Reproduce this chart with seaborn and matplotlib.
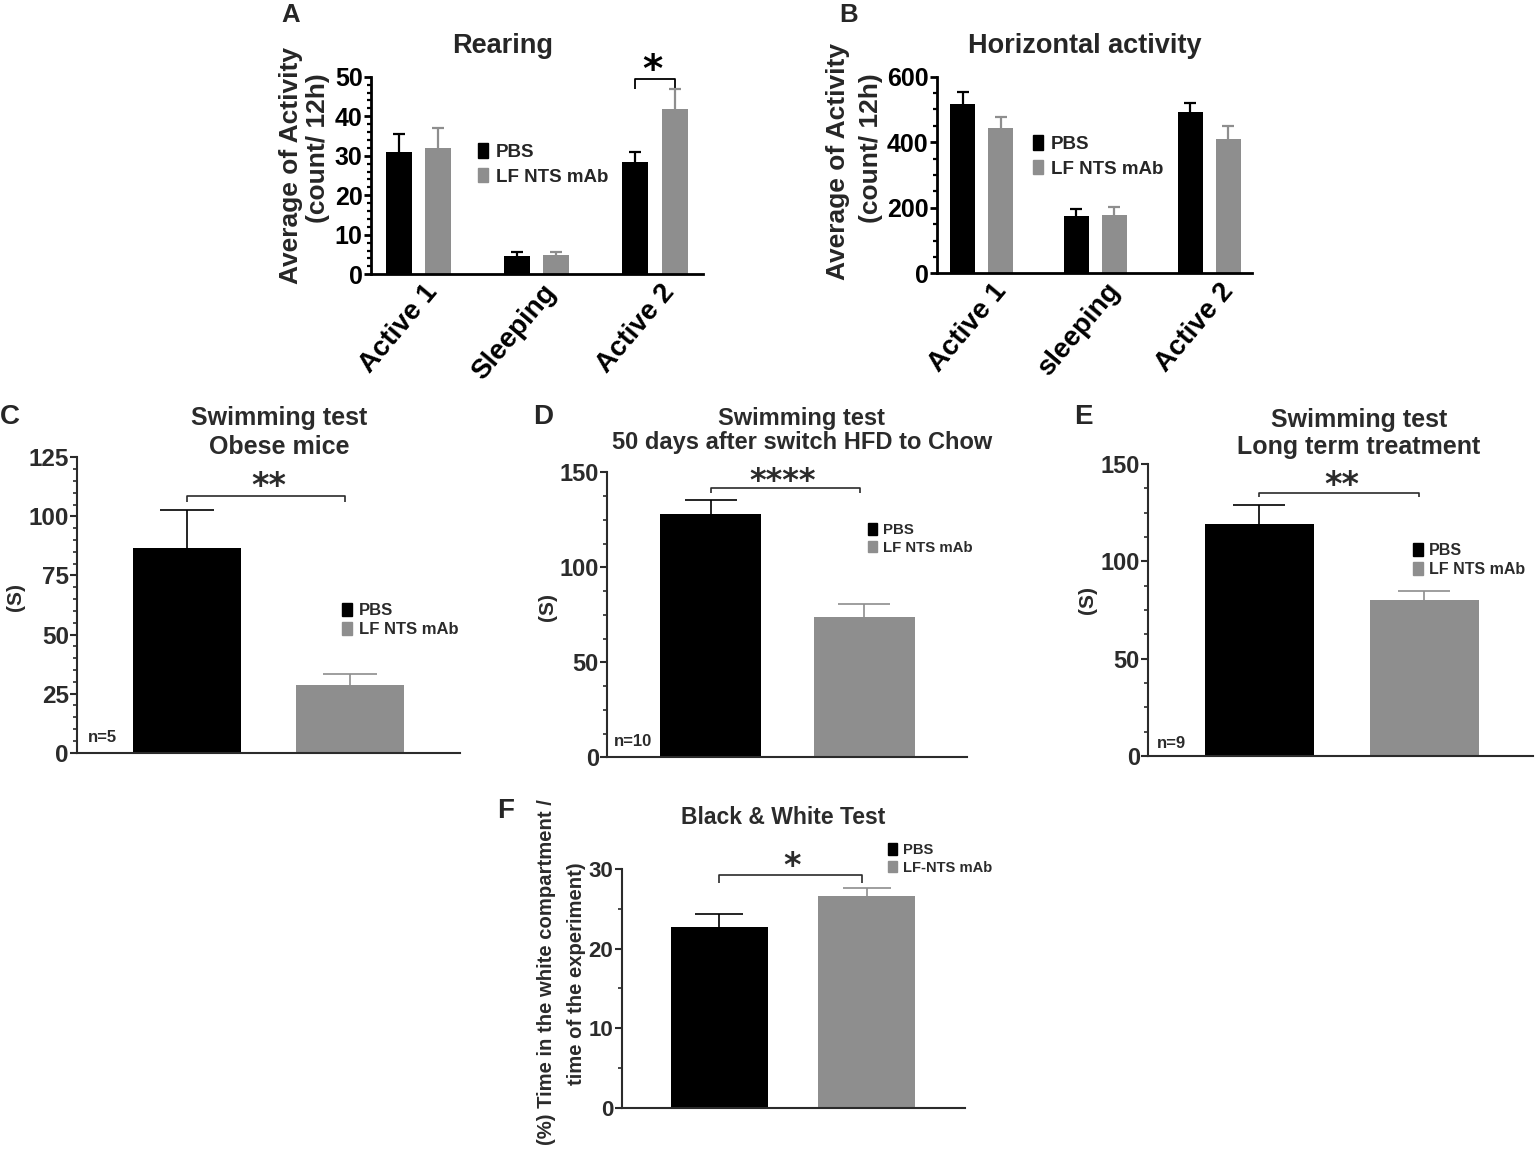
import matplotlib
matplotlib.use("Agg")
import matplotlib.pyplot as plt
import matplotlib.transforms as mtrans
from matplotlib.patches import Patch
from matplotlib.container import BarContainer
from matplotlib.ticker import MultipleLocator
import seaborn as sns
import pandas as pd

# ---------------- data ----------------
groups = ["PBS", "LF NTS mAb"]

A_categories = ["Active 1", "Sleeping", "Active 2"]
A_pbs = [31.0, 4.6, 28.3]
A_pbs_sem = [4.5, 1.0, 2.7]
A_lf = [31.9, 4.8, 41.9]
A_lf_sem = [5.1, 0.8, 5.0]

B_categories = ["Active 1", "sleeping", "Active 2"]
B_pbs = [518, 176, 491]
B_pbs_sem = [34, 20, 28]
B_lf = [444, 179, 411]
B_lf_sem = [32, 24, 39]

C_values = [86.8, 28.6]
C_sem = [15.9, 4.8]
D_values = [128.1, 73.7]
D_sem = [7.5, 7.0]
E_values = [119.2, 80.1]
E_sem = [9.9, 4.8]
F_groups = ["PBS", "LF-NTS mAb"]
F_values = [22.75, 26.6]
F_sem = [1.55, 1.05]

# significance bracket heights (data units): (top, tip)
A_bracket = (49.3, 46.8)
C_bracket = (108.8, 106.2)
D_bracket = (141.7, 138.9)
E_bracket = (135.2, 132.9)
F_bracket = (29.3, 28.3)

BLACK = "#000000"
GREY = "#8e8e8e"
DARK = "#2b2b2b"

sns.set_style("ticks")
plt.rcParams["font.family"] = ["Liberation Sans", "DejaVu Sans"]
plt.rcParams["font.weight"] = "bold"

W, H = 1536, 1155
fig = plt.figure(figsize=(W / 100, H / 100), dpi=100)


def rect(l, r, b, t):
    return [l / W, 1 - b / H, (r - l) / W, (b - t) / H]


def ftext(x, y, s, **kw):
    kw.setdefault("ha", "center")
    kw.setdefault("va", "center")
    kw.setdefault("fontweight", "bold")
    return fig.text(x / W, 1 - y / H, s, **kw)


def stars(x, yc, s, size, color):
    em = size * 100 / 72
    fig.text(x / W, 1 - (yc + 0.48 * em) / H, s, ha="center", va="baseline",
             fontsize=size, fontweight="bold", family="DejaVu Sans", color=color)


def bar_containers(ax):
    return [c for c in ax.containers if isinstance(c, BarContainer)]


def style_axis(ax, color, lw, major, minor, ymax, labsize):
    sns.despine(ax=ax)
    for sp in ("left", "bottom"):
        ax.spines[sp].set_linewidth(lw)
        ax.spines[sp].set_color(color)
    ax.set_ylim(0, ymax)
    ax.yaxis.set_major_locator(MultipleLocator(major))
    ax.yaxis.set_minor_locator(MultipleLocator(minor))
    ax.tick_params(axis="y", which="major", length=5, width=lw, color=color,
                   labelsize=labsize, labelcolor=color, pad=1)
    ax.tick_params(axis="y", which="minor", length=3, width=lw * 0.8, color=color)
    ax.tick_params(axis="x", length=0)
    for lab in ax.get_yticklabels():
        lab.set_fontweight("bold")
    ax.set_xlabel("")
    ax.set_ylabel("")


def add_errors(ax, means_list, sems_list, colors, capsize, lw):
    conts = bar_containers(ax)
    for cont, means, sems, col in zip(conts, means_list, sems_list, colors):
        for bar, m, e in zip(cont, means, sems):
            xc = bar.get_x() + bar.get_width() / 2
            eb = ax.errorbar(xc, m, yerr=[[0], [e]], fmt="none", ecolor=col,
                             elinewidth=lw, capsize=capsize, capthick=lw, zorder=3)
            # only the upper cap is drawn (one-sided SEM)
            eb[1][0].set_visible(False)


def bracket(ax, x1, x2, top, tip, color, lw):
    ax.plot([x1, x1, x2, x2], [tip, top, top, tip], color=color, lw=lw,
            clip_on=False, solid_capstyle="butt")


def bar_centers(ax):
    return [b.get_x() + b.get_width() / 2 for c in bar_containers(ax) for b in c]


palette = {"PBS": BLACK, "LF NTS mAb": GREY, "LF-NTS mAb": GREY}

# ---------------- Panel A / B ----------------
def grouped(rectpx, cats, pbs, pbs_sem, lf, lf_sem, ymax, major, minor, xlim, dx_px):
    ax = fig.add_axes(rect(*rectpx))
    df = pd.DataFrame({
        "cat": cats * 2,
        "grp": [groups[0]] * len(cats) + [groups[1]] * len(cats),
        "val": list(pbs) + list(lf),
    })
    sns.barplot(data=df, x="cat", y="val", hue="grp", hue_order=groups,
                palette=palette, width=0.667, gap=0.34, errorbar=None,
                linewidth=0, legend=False, ax=ax)
    ax.set_xlim(*xlim)
    style_axis(ax, BLACK, 2.0, major, minor, ymax, 18)
    add_errors(ax, [pbs, lf], [pbs_sem, lf_sem], [BLACK, GREY], 4.6, 1.6)
    # rotated category labels, anchored at their upper-right corner
    ticks = ax.get_xticks()
    ax.set_xticklabels([])
    base = mtrans.blended_transform_factory(ax.transData, ax.transAxes)
    off = mtrans.ScaledTranslation(dx_px / 100, -5 / 100, fig.dpi_scale_trans)
    for xt, name in zip(ticks, cats):
        ax.text(xt, 0, name, transform=base + off, rotation=50,
                rotation_mode="anchor", ha="right", va="top",
                fontsize=20, fontweight="bold", color=BLACK)
    return ax


axA = grouped((371, 703, 274.3, 76.7), A_categories, A_pbs, A_pbs_sem,
              A_lf, A_lf_sem, 50, 10, 2, (-0.40, 2.405), 5)
axB = grouped((937, 1252, 273.3, 76.7), B_categories, B_pbs, B_pbs_sem,
              B_lf, B_lf_sem, 600, 200, 50, (-0.393, 2.377), 10)

# A bracket between Active 2 bars
bcA = bar_containers(axA)
pbs_bars = list(bcA[0])
lf_bars = list(bcA[1])
xa1 = pbs_bars[2].get_x() + pbs_bars[2].get_width() / 2
xa2 = lf_bars[2].get_x() + lf_bars[2].get_width() / 2
bracket(axA, xa1, xa2, A_bracket[0], A_bracket[1], BLACK, 1.3)
stars(652, 63, "*", 28, BLACK)

# legends A/B
for ax, (lx, ly) in ((axA, (478, 143)), (axB, (1033, 135))):
    handles = [Patch(color=BLACK), Patch(color=GREY)]
    leg = ax.legend(handles, groups, loc="upper left",
                    bbox_to_anchor=(lx / W, 1 - ly / H),
                    bbox_transform=fig.transFigure, frameon=False,
                    handlelength=0.55, handleheight=0.85, handletextpad=0.4,
                    labelspacing=0.35, borderpad=0, borderaxespad=0,
                    prop={"weight": "bold", "size": 13.5})

# titles/labels A, B
ftext(503, 46, "Rearing", fontsize=19.5)
ftext(1085, 46, "Horizontal activity", fontsize=19.5)
ftext(291, 166, "Average of Activity", fontsize=19, rotation=90)
ftext(318, 148, "(count/ 12h)", fontsize=19, rotation=90)
ftext(838, 162, "Average of Activity", fontsize=19, rotation=90)
ftext(871, 148, "(count/ 12h)", fontsize=19, rotation=90)
ftext(291, 15, "A", fontsize=18.5)
ftext(849, 15, "B", fontsize=18.5)


# ---------------- Panels C-F ----------------
def single(rectpx, grp, vals, sems, ymax, major, minor, xlim, labsize, cap):
    ax = fig.add_axes(rect(*rectpx))
    df = pd.DataFrame({"grp": grp, "val": vals})
    sns.barplot(data=df, x="grp", y="val", hue="grp", hue_order=grp,
                palette=palette, width=0.66, errorbar=None, linewidth=0,
                legend=False, dodge=False, ax=ax)
    ax.set_xlim(*xlim)
    style_axis(ax, DARK, 1.5, major, minor, ymax, labsize)
    ax.set_xticklabels([])
    add_errors(ax, [[v] for v in vals], [[s] for s in sems], [BLACK, GREY], cap, 1.2)
    return ax


axC = single((77.3, 460, 752.7, 457.3), groups, C_values, C_sem, 125, 25, 5,
             (-0.669, 1.672), 17.5, 19.4)
axD = single((607.3, 966.7, 757.3, 472.3), groups, D_values, D_sem, 150, 50, 12.5,
             (-0.673, 1.665), 17, 18.4)
axE = single((1148.3, 1533, 756, 464), groups, E_values, E_sem, 150, 50, 12.5,
             (-0.671, 1.66), 17, 18.4)
axF = single((621.7, 965, 1107.7, 869), F_groups, F_values, F_sem, 30, 10, 5,
             (-0.664, 1.668), 16, 17.2)

for ax, br in ((axC, C_bracket), (axD, D_bracket), (axE, E_bracket), (axF, F_bracket)):
    xs = bar_centers(ax)
    bracket(ax, xs[0], xs[1] - 0.03, br[0], br[1], DARK, 1.2)

stars(269, 480, "**", 24, DARK)
stars(783, 475, "****", 23, DARK)
stars(1342, 479, "**", 24, DARK)
stars(792, 860, "*", 24, DARK)

leg_specs = [
    (axC, (342, 603), groups, 12),
    (axD, (868, 523), groups, 10.8),
    (axE, (1413, 543), groups, 11.5),
    (axF, (888, 843), F_groups, 10.6),
]
for ax, (lx, ly), labels, fs in leg_specs:
    handles = [Patch(color=BLACK), Patch(color=GREY)]
    leg = ax.legend(handles, labels, loc="upper left",
                    bbox_to_anchor=(lx / W, 1 - ly / H),
                    bbox_transform=fig.transFigure, frameon=False,
                    handlelength=0.6, handleheight=0.8, handletextpad=0.4,
                    labelspacing=0.25, borderpad=0, borderaxespad=0,
                    prop={"weight": "bold", "size": fs})
    for t in leg.get_texts():
        t.set_color(DARK)

# titles C-F
ftext(279, 418, "Swimming test", fontsize=18, color=DARK)
ftext(279, 447, "Obese mice", fontsize=18, color=DARK)
ftext(802, 418, "Swimming test", fontsize=17, color=DARK)
ftext(802, 443, "50 days after switch HFD to Chow", fontsize=17, color=DARK)
ftext(1359, 420, "Swimming test", fontsize=18, color=DARK)
ftext(1359, 447, "Long term treatment", fontsize=18, color=DARK)
ftext(783, 817, "Black & White Test", fontsize=16.5, color=DARK)

# y labels C-F
ftext(15, 597, "(S)", fontsize=15, rotation=90, color=DARK)
ftext(548, 607, "(S)", fontsize=15, rotation=90, color=DARK)
ftext(1088, 600, "(S)", fontsize=15, rotation=90, color=DARK)
ftext(546, 972, "(%) Time in the white compartment /", fontsize=14.6, rotation=90, color=DARK)
ftext(576, 974, "time of the experiment)", fontsize=14.6, rotation=90, color=DARK)

# n labels
ftext(102, 738, "n=5", fontsize=12, color=DARK)
ftext(633, 742, "n=10", fontsize=12, color=DARK)
ftext(1171, 743, "n=9", fontsize=12, color=DARK)

# panel letters
ftext(10, 417, "C", fontsize=20)
ftext(543, 417, "D", fontsize=20)
ftext(1083, 417, "E", fontsize=20)
ftext(506, 811, "F", fontsize=20)

fig.savefig("out.png", dpi=100)
